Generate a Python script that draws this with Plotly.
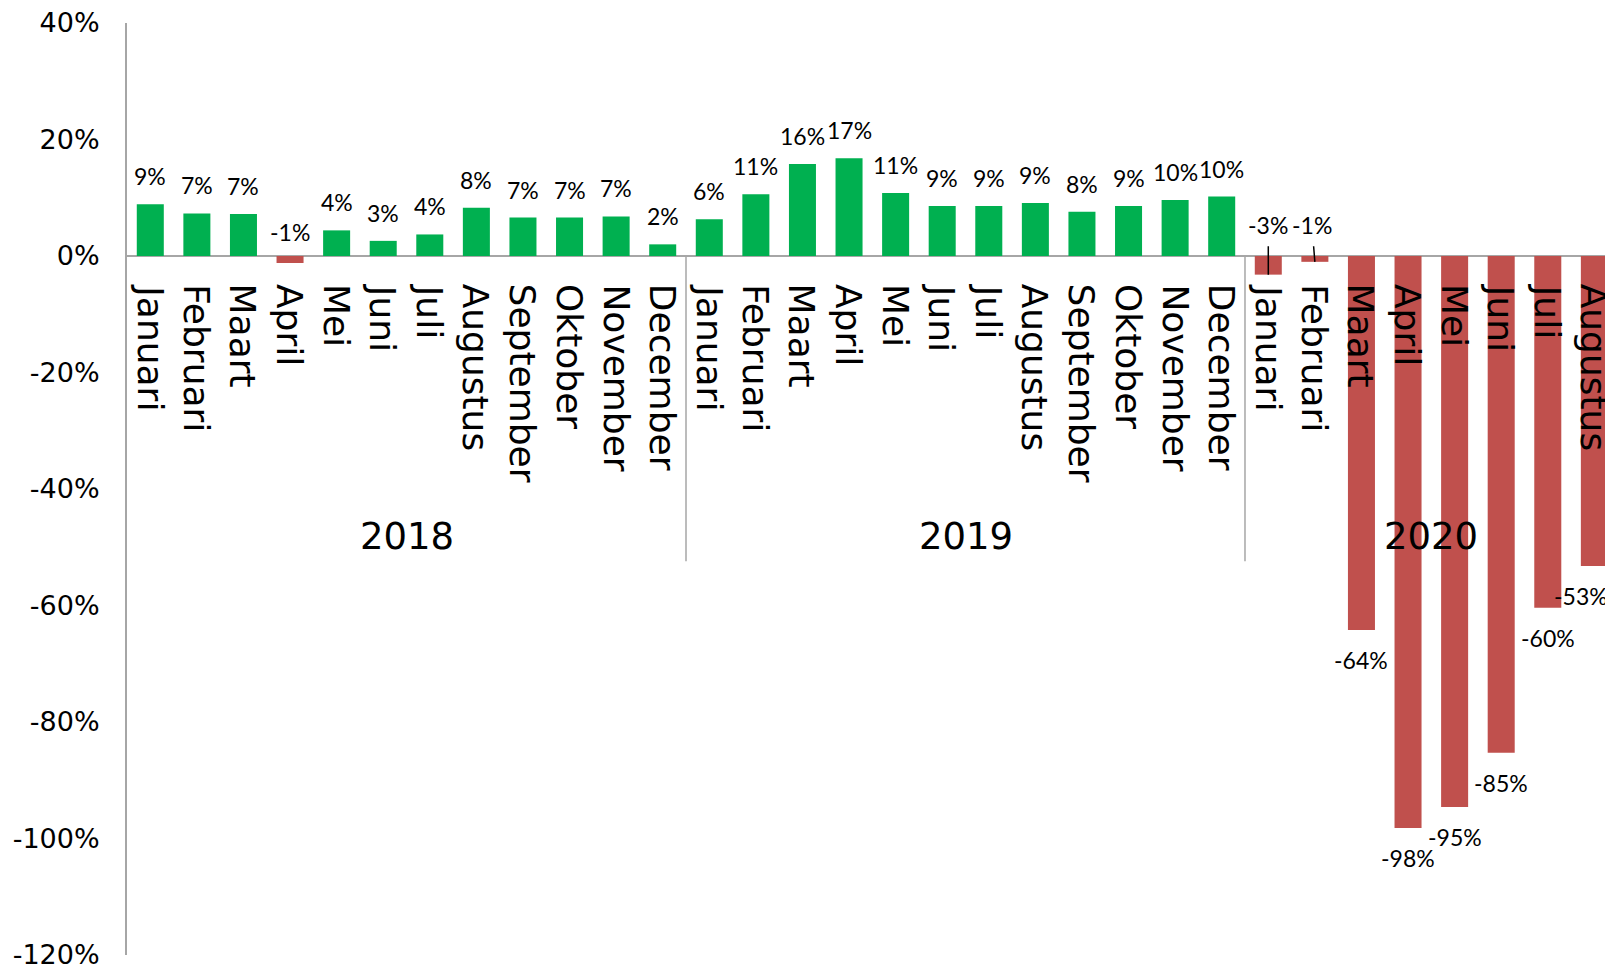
import plotly.graph_objects as go

years = ["2018", "2019", "2020"]
months = ["Januari", "Februari", "Maart", "April", "Mei", "Juni", "Juli",
          "Augustus", "September", "Oktober", "November", "December"]
months_per_year = [12, 12, 8]

values_2018 = [8.9, 7.3, 7.2, -1.2, 4.4, 2.6, 3.7, 8.3, 6.6, 6.6, 6.8, 2.0]
values_2019 = [6.3, 10.6, 15.8, 16.8, 10.8, 8.6, 8.6, 9.1, 7.6, 8.6, 9.6, 10.2]
values_2020 = [-3.2, -1.0, -64.2, -98.2, -94.6, -85.3, -60.4, -53.2]

tick_vals = [40, 20, 0, -20, -40, -60, -80, -100, -120]
tick_text = ["40%", "20%", "0%", "-20%", "-40%", "-60%", "-80%", "-100%", "-120%"]

values = values_2018 + values_2019 + values_2020
labels = [m for n in months_per_year for m in months[:n]]
xs = list(range(len(values)))
colors = ["#00B050" if v >= 0 else "#C0504D" for v in values]

GREY = "#A6A6A6"
LABEL_FONT = dict(family="Lato", size=23, color="black")

fig = go.Figure()
fig.add_bar(x=xs, y=values, marker_color=colors, marker_line_width=0,
            width=0.58, hoverinfo="skip")

# data labels
for i, v in enumerate(values):
    txt = f"{round(v):d}%"
    if v >= 0:
        fig.add_annotation(x=i, y=v, text=txt, showarrow=False,
                           yanchor="bottom", yshift=12, font=LABEL_FONT)
    elif v > -2 and i < 12:
        fig.add_annotation(x=i, y=0, text=txt, showarrow=False,
                           yanchor="bottom", yshift=8, font=LABEL_FONT)
    elif v > -5:
        # small 2020 bars: label above zero with a leader line
        ay = -50 if v < -2 else -37
        ax = 0 if v < -2 else -3
        fig.add_annotation(x=i, y=v, text=txt, showarrow=True, arrowhead=0,
                           arrowwidth=1.5, arrowcolor="black", ax=ax, ay=ay,
                           startstandoff=6, font=LABEL_FONT)
    else:
        xshift = -13 if i == len(values) - 1 else 0
        fig.add_annotation(x=i, y=v, text=txt, showarrow=False,
                           yanchor="top", yshift=-14, xshift=xshift,
                           font=LABEL_FONT)

# month names, rotated, hanging below the zero line
for i, name in enumerate(labels):
    fig.add_annotation(x=i, y=0, text=name, showarrow=False, textangle=90,
                       yanchor="top", yshift=-26,
                       font=dict(family="DejaVu Sans", size=36, color="black"))

# year labels and separators
start = 0
for k, (yr, n) in enumerate(zip(years, months_per_year)):
    fig.add_annotation(x=start + (n - 1) / 2, y=-48.2, text=yr, showarrow=False,
                       font=dict(family="DejaVu Sans", size=37, color="black"))
    if k > 0:
        fig.add_shape(type="line", xref="x", yref="y", x0=start - 0.5,
                      x1=start - 0.5, y0=0, y1=-52.4,
                      line=dict(color=GREY, width=1.5))
    start += n

# page body adds an 8px margin, so the figure is 8px smaller each way
fig.update_layout(
    width=1605, height=959,
    margin=dict(l=119, r=0, t=15, b=12, autoexpand=False),
    paper_bgcolor="white", plot_bgcolor="white",
    showlegend=False,
    xaxis=dict(range=[-0.5, 31.4], showgrid=False, zeroline=False,
               showticklabels=False, showline=False, automargin=False),
    yaxis=dict(range=[-120, 40], tickvals=tick_vals, ticktext=tick_text,
               showgrid=False, showline=True, linecolor=GREY, linewidth=2,
               zeroline=True, zerolinecolor=GREY, zerolinewidth=2,
               ticks="", ticklabelstandoff=20, automargin=False,
               ticklabeloverflow="allow",
               tickfont=dict(family="DejaVu Sans", size=27, color="black")),
)

fig.write_html("out.html")
